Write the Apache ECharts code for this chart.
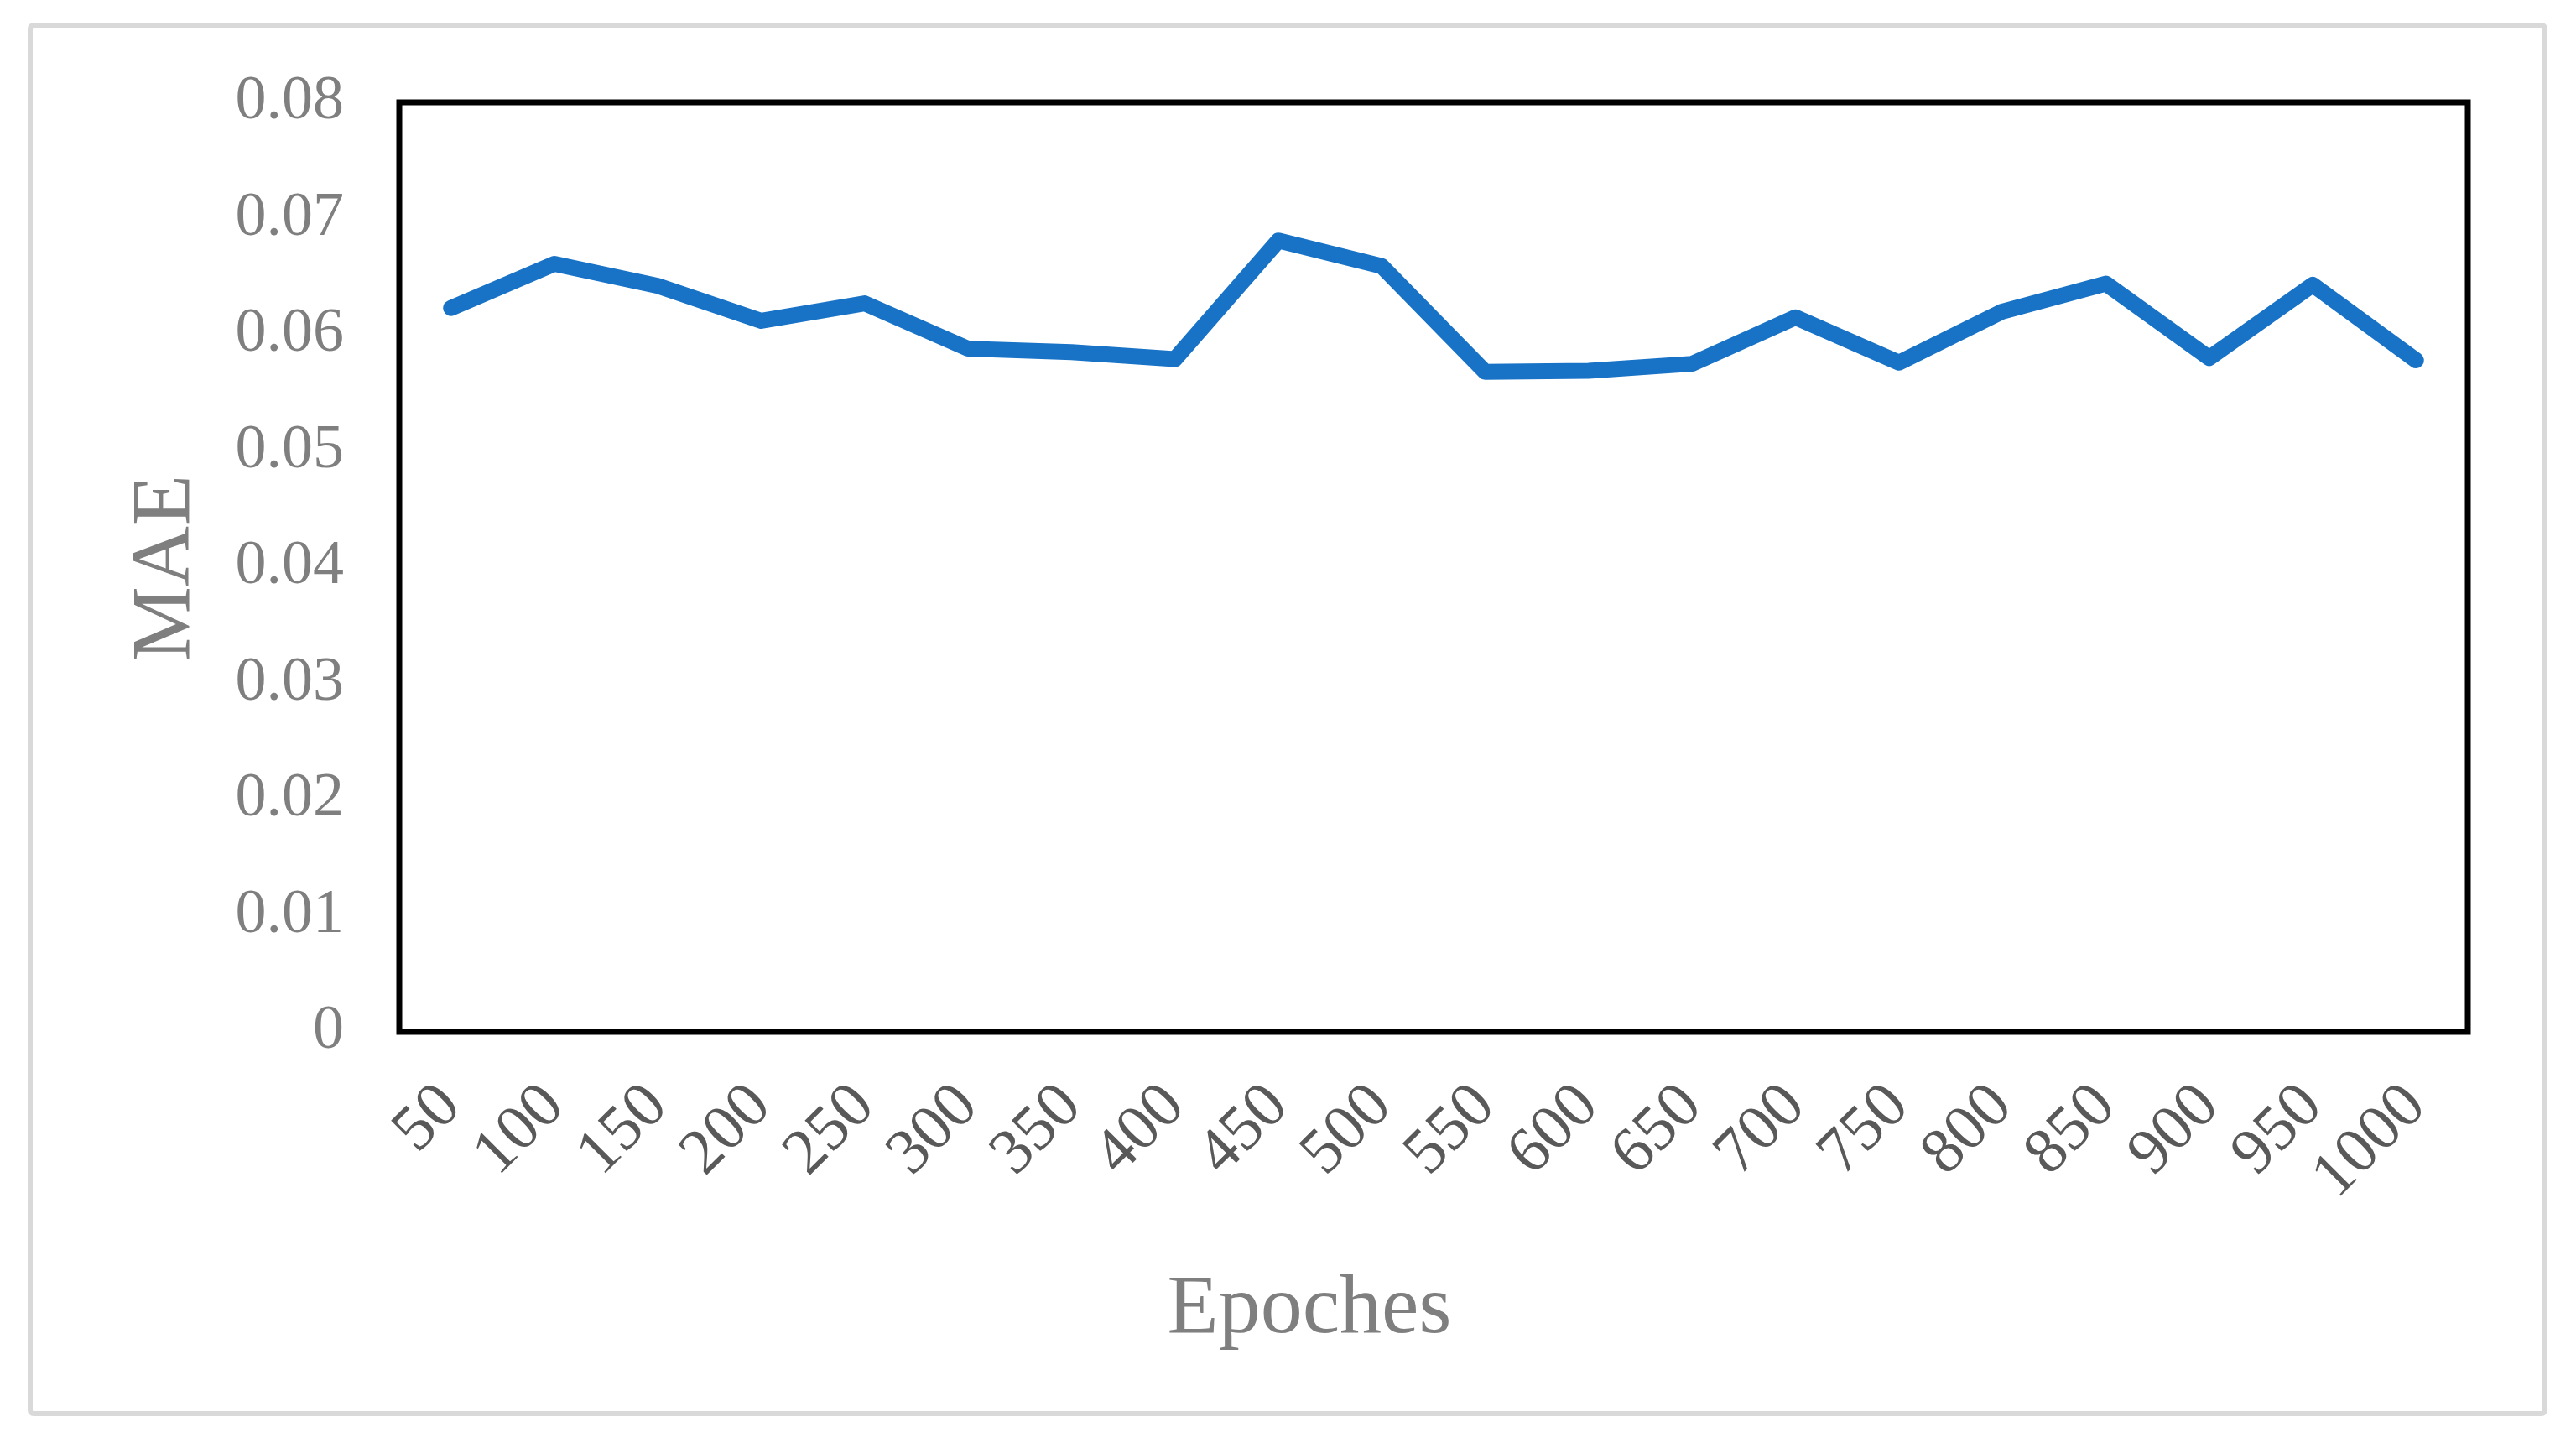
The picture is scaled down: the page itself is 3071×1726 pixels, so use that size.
<!DOCTYPE html>
<html>
<head>
<meta charset="utf-8">
<script src="https://cdn.jsdelivr.net/npm/echarts@6/dist/echarts.min.js"></script>
<style>
html,body{margin:0;padding:0;background:#fff;}
#chart{width:3071px;height:1726px;}
</style>
</head>
<body>
<div id="chart"></div>
<script>
const epochs = ['50','100','150','200','250','300','350','400','450','500','550','600','650','700','750','800','850','900','950','1000'];
const mae = [0.0623,0.0661,0.0642,0.0612,0.0627,0.0588,0.0585,0.0579,0.0681,0.0659,0.0568,0.0569,0.0575,0.0615,0.0576,0.0620,0.0644,0.0580,0.0643,0.0578];
const yTicks = [0,0.01,0.02,0.03,0.04,0.05,0.06,0.07,0.08];
const xTitle = 'Epoches';
const yTitle = 'MAE';

const chart = echarts.init(document.getElementById('chart'), null, {renderer:'canvas'});
const FONT = "'Liberation Serif','Times New Roman',serif";
chart.setOption({
  backgroundColor:'#ffffff',
  animation:false,
  grid:{left:476,right:129,top:122,bottom:496,show:true,borderColor:'#000000',borderWidth:7,backgroundColor:'transparent'},
  xAxis:{
    type:'category',
    data:epochs,
    boundaryGap:true,
    axisLine:{show:false},
    axisTick:{show:false},
    splitLine:{show:false},
    axisLabel:{interval:0,rotate:45,margin:77,fontFamily:FONT,fontSize:77,color:'#595959'}
  },
  yAxis:{
    type:'value',
    min:yTicks[0],
    max:yTicks[yTicks.length-1],
    interval:0.01,
    axisLine:{show:false},
    axisTick:{show:false},
    splitLine:{show:false},
    axisLabel:{margin:66,fontFamily:FONT,fontSize:74,color:'#7f7f7f',
      formatter:function(v){return String(parseFloat(v.toFixed(2)));}}
  },
  series:[{
    type:'line',
    data:mae,
    symbol:'none',
    lineStyle:{color:'#1873C7',width:19,cap:'round',join:'round'}
  }],
  graphic:[
    {type:'rect',shape:{x:36,y:30,width:2998,height:1655,r:4},style:{fill:'none',stroke:'#d9d9d9',lineWidth:6},z:-1},
    {type:'text',x:1561,y:1562,style:{text:xTitle,font:"100px "+FONT,fill:'#7f7f7f',textAlign:'center',textVerticalAlign:'middle'}},
    {type:'text',x:199,y:677,rotation:Math.PI/2,style:{text:yTitle,font:"100px "+FONT,fill:'#7f7f7f',textAlign:'center',textVerticalAlign:'middle'}}
  ]
});
</script>
</body>
</html>
